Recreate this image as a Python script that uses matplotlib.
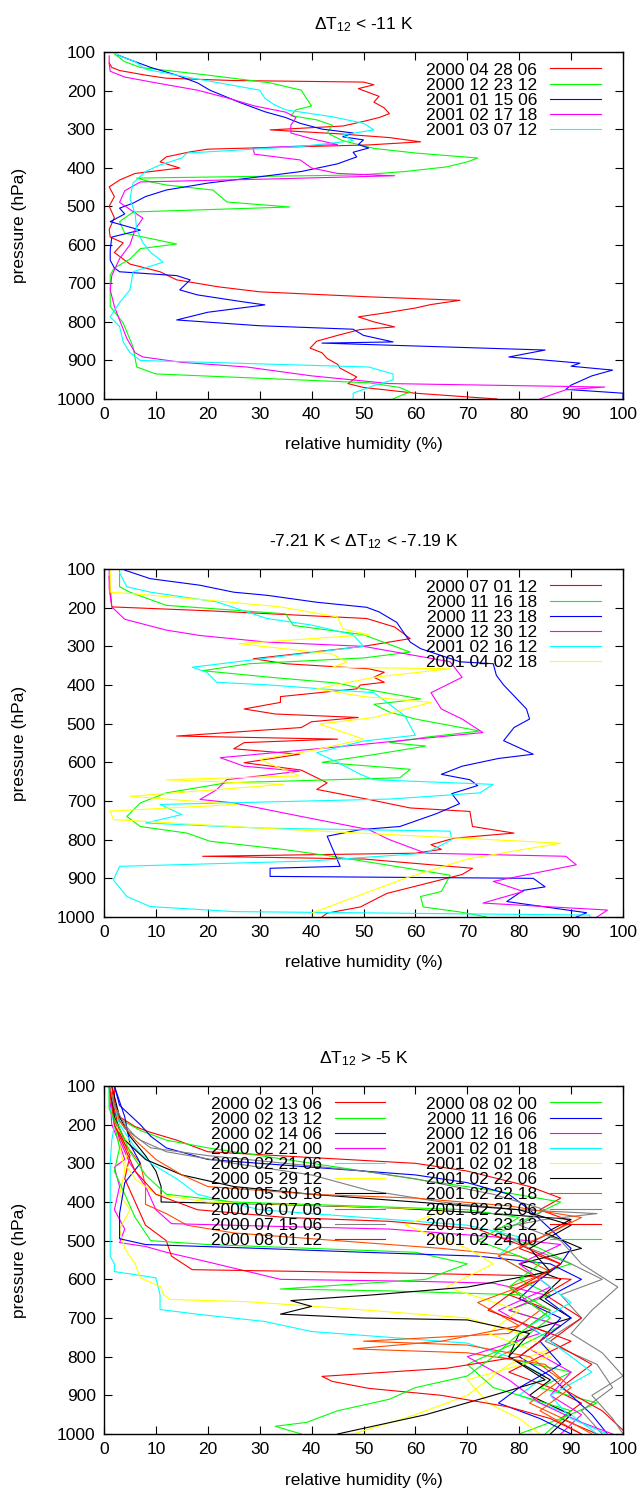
import matplotlib
matplotlib.use('Agg')
import matplotlib.pyplot as plt

plt.rcParams['font.family'] = ['Liberation Sans', 'DejaVu Sans']
plt.rcParams['mathtext.fontset'] = 'custom'
plt.rcParams['mathtext.rm'] = 'Liberation Sans'
plt.rcParams['mathtext.it'] = 'Liberation Sans:italic'

# gnuplot postscript line colours
PS_COLORS = ['#ff0000', '#00ff00', '#0000ff', '#ff00ff', '#00ffff',
             '#ffff00', '#000000', '#ff4d00', '#808080']

# ---------------- case 1: dT12 < -11 K ----------------
labels_a = ['2000 04 28 06', '2000 12 23 12', '2001 01 15 06',
            '2001 02 17 18', '2001 03 07 12']

a_red_p = [128, 140, 148, 160, 168, 174, 178, 185, 195, 205, 215, 230, 245, 260, 270, 280,
           292, 302, 312, 322, 333, 341, 352, 359, 372, 385, 401, 415, 432, 450, 475, 500,
           530, 560, 580, 595, 620, 650, 670, 691, 709, 722, 735, 744, 755, 764, 775, 787,
           800, 813, 820, 835, 850, 868, 880, 895, 910, 920, 943, 960, 970, 985, 1000]
a_red_rh = [1, 1.5, 3, 8, 12, 25, 50, 52, 49, 51, 53, 52, 54, 55, 53, 50,
            46, 32, 45, 55, 61, 51, 20, 16.6, 12, 10.8, 14.6, 6, 3, 1, 2, 1,
            2, 1, 1.2, 3.7, 2, 5, 10.8, 14, 22, 30, 51, 68.6, 63, 60, 55, 49,
            52, 56, 49.3, 45, 41, 39.7, 42, 43, 45, 45.5, 48.7, 47, 50, 60, 75.7]

a_green_p = [105, 115, 125, 140, 160, 180, 199, 220, 240, 250, 265, 276, 290, 310, 330, 350,
             362, 375, 385, 398, 410, 419, 427, 437, 445, 458, 470, 489, 502, 515, 540, 570,
             598, 610, 637, 660, 678, 720, 760, 803, 865, 917, 935, 958, 970, 982, 992, 1000]
a_green_rh = [2, 3, 4, 7, 20, 32, 38, 39, 40, 37, 36, 41, 44, 43, 46, 52,
              60, 72, 70, 66, 58, 49, 6.3, 9, 12, 21, 22, 23.7, 35.8, 5.6, 3, 4,
              14, 7, 5, 2, 1.2, 1.2, 1.2, 3.7, 5.6, 6.3, 10, 51, 57, 59, 57, 55.7]

a_blue_p = [108, 120, 140, 160, 180, 199, 230, 255, 270, 285, 300, 310, 320, 328, 340, 349,
            360, 372, 390, 410, 427, 440, 458, 475, 492, 505, 520, 540, 562, 580, 613, 640,
            660, 670, 680, 691, 717, 730, 748, 756, 775, 795, 810, 819, 835, 852, 855, 873,
            891, 907, 915, 925, 940, 964, 975, 985, 1000]
a_blue_rh = [2.7, 5, 9, 14, 18, 20.4, 26, 31, 35, 37.8, 42, 48, 46, 50, 49, 51,
             48, 48.7, 45, 38, 28, 20, 12, 8, 5.6, 3, 4, 1.2, 7, 1.5, 1.2, 1.2,
             2, 3, 14, 16.6, 14.6, 18, 26.8, 31, 20, 14, 30, 48, 50, 55.7, 42, 85,
             78, 91.7, 90, 98, 94, 90, 89, 100, 100]

a_mag_p = [110, 130, 150, 165, 180, 199, 220, 240, 256, 270, 290, 310, 325, 340, 349, 365,
           380, 401, 415, 421, 430, 437, 460, 490, 531, 560, 600, 636, 680, 717, 760, 795,
           843, 880, 891, 905, 917, 940, 960, 969, 976, 990, 1000]
a_mag_rh = [1, 1, 1.2, 4, 10, 18, 24, 29, 35, 37, 36, 36, 40, 45, 28.7, 29,
            37.8, 40, 45, 56, 30, 7, 4, 3, 7.5, 6, 5, 3, 1.5, 1.2, 2, 3,
            4.4, 6, 7.5, 15, 27.5, 40, 55, 96.5, 89, 86, 84]

a_cyan_p = [100, 110, 125, 145, 170, 199, 220, 235, 250, 268, 285, 302, 315, 330, 345, 362,
            375, 393, 410, 440, 480, 520, 560, 595, 620, 645, 670, 717, 750, 787, 812, 852,
            880, 900, 917, 935, 950, 965, 985, 1000]
a_cyan_rh = [2, 3, 6, 8, 18, 30, 31, 32.6, 35, 44, 50, 52, 46, 48, 38, 16,
             15, 10.8, 8, 5.6, 5, 6, 6.3, 7.5, 9, 11.4, 5.6, 5, 3, 1.2, 3, 3.7,
             5, 7, 51, 55.7, 55.7, 52, 48, 48]

# ---------------- case 2: -7.21 K < dT12 < -7.19 K ----------------
labels_b = ['2000 07 01 12', '2000 11 16 18', '2000 11 23 18',
            '2000 12 30 12', '2001 02 16 12', '2001 04 02 18']

b_red_p = [120, 150, 198, 208, 228, 250, 280, 300, 332, 345, 358, 367, 380, 393, 400, 410,
           430, 445, 462, 475, 484, 495, 510, 532, 540, 549, 565, 579, 601, 620, 653, 670,
           696, 718, 727, 766, 783, 796, 813, 825, 835, 843, 850, 874, 890, 939, 974, 990, 1000]
b_red_rh = [1, 1.2, 1.5, 20, 50.6, 56, 59, 50, 28.8, 35, 51, 54, 52, 54, 49.4, 48.7,
            34, 34, 27, 33, 49, 40, 38, 14, 45, 27, 25, 37.7, 27, 38, 43, 41,
            51, 59, 70.5, 71, 79, 67.5, 63, 65, 60, 19, 50, 71, 69, 54.5, 49.4, 43, 42]

b_green_p = [100, 146, 160, 194, 216, 246, 270, 300, 315, 330, 345, 363, 380, 395, 410, 436,
             450, 470, 488, 519, 535, 549, 558, 580, 600, 618, 640, 653, 679, 705, 740, 766,
             783, 804, 826, 843, 860, 892, 934, 947, 974, 987, 1000]
b_green_rh = [3, 3, 5, 12, 35, 36.5, 50, 56, 59, 50, 28, 19, 32, 45, 50, 61,
              52, 55, 60, 72.4, 62, 55, 62, 52, 42, 59, 57, 23.6, 12, 7, 4.4, 7,
              16, 20.4, 35, 44, 52, 66.7, 65, 61, 61.5, 68.6, 73.7]

b_blue_p = [103, 125, 142, 160, 168, 186, 199, 211, 238, 289, 306, 340, 345, 375, 400, 428,
            462, 488, 510, 544, 579, 590, 610, 631, 645, 660, 681, 707, 733, 766, 774, 791,
            869, 874, 895, 900, 922, 931, 960, 989, 1000]
b_blue_rh = [4, 8.9, 18.5, 25, 31.4, 41, 50.6, 53, 56.4, 59, 61, 68.6, 75, 75.6, 77, 79,
             81.4, 82, 79, 77, 82.7, 76, 69, 65, 70.5, 72, 67, 68.5, 64, 57, 49.4, 43,
             45.5, 32, 32, 82.7, 85, 80.8, 77.6, 93, 91]

b_mag_p = [100, 150, 198, 230, 258, 272, 289, 300, 340, 380, 420, 462, 488, 523, 540, 560,
           588, 610, 623, 645, 671, 696, 705, 740, 774, 800, 835, 843, 865, 908, 934, 964,
           982, 1000]
b_mag_rh = [1, 1, 1.5, 4, 12, 18.5, 31.4, 50, 66.7, 69, 63, 65, 69, 73, 60, 45,
            22.4, 27, 37.7, 23.6, 21.7, 18.5, 25, 38, 51, 55, 62, 89, 91, 75, 80.8, 73,
            97, 95]

b_cyan_p = [110, 146, 160, 185, 228, 245, 270, 300, 354, 367, 393, 400, 420, 450, 480, 506,
            530, 545, 575, 600, 631, 645, 657, 679, 695, 709, 735, 757, 770, 778, 800, 835,
            855, 869, 904, 947, 973, 986, 995, 1000]
b_cyan_rh = [3, 4.4, 9, 21.7, 31.4, 40, 48, 50, 17, 19.8, 21.7, 32, 52, 55, 58, 59,
             60, 50, 41, 45, 49.4, 52, 75, 72.4, 55, 10.8, 15, 8, 30, 66.7, 67, 62,
             40, 3, 1.8, 4.4, 8.9, 25, 93.6, 93.6]

b_yel_p = [100, 160, 164, 181, 198, 224, 255, 270, 293, 320, 341, 354, 358, 380, 410, 430,
           445, 484, 501, 540, 570, 592, 610, 635, 645, 657, 688, 709, 726, 748, 770, 809,
           850, 900, 950, 990, 1000]
b_yel_rh = [1.2, 1.2, 5.6, 20.4, 34, 45, 46, 51, 26, 44, 46.8, 44, 66.7, 52, 41, 50,
            63, 52, 41.6, 50, 40, 30, 33, 37.7, 12, 34.6, 5, 25.6, 1.2, 1.8, 30, 88,
            70, 58, 48, 40, 40]

# ---------------- case 3: dT12 > -5 K ----------------
labels_c = ['2000 02 13 06', '2000 02 13 12', '2000 02 14 06', '2000 02 21 00',
            '2000 02 21 06', '2000 05 29 12', '2000 05 30 18', '2000 06 07 06',
            '2000 07 15 06', '2000 08 01 12', '2000 08 02 00', '2000 11 16 06',
            '2000 12 16 06', '2001 02 01 18', '2001 02 02 18', '2001 02 22 06',
            '2001 02 22 18', '2001 02 23 06', '2001 02 23 12', '2001 02 24 00']

c01_p = [100, 140, 180, 205, 220, 240, 255, 270, 285, 300, 320, 340, 360, 390, 420, 450,
         480, 520, 560, 600, 640, 680, 720, 760, 800, 840, 880, 920, 960, 1000]
c01_rh = [2, 2, 3, 6, 9, 14, 17, 20, 40, 60, 70, 76, 82, 88, 84, 90,
          86, 80, 88, 84, 78, 86, 82, 90, 84, 78, 86, 92, 88, 95]
c02_p = [100, 150, 185, 215, 240, 260, 290, 320, 345, 370, 400, 440, 480, 520, 560, 600,
         640, 680, 720, 760, 800, 840, 880, 920, 960, 1000]
c02_rh = [1, 1.5, 3, 7, 12, 20, 35, 50, 62, 75, 88, 82, 76, 84, 90, 80,
          86, 78, 88, 82, 76, 90, 84, 95, 88, 80]
c03_p = [100, 150, 175, 200, 230, 260, 290, 310, 330, 350, 380, 420, 470, 520, 560, 600,
         650, 700, 760, 800, 850, 900, 950, 1000]
c03_rh = [2, 3, 5, 7, 9, 12, 20, 40, 60, 70, 78, 82, 86, 90, 88, 84,
          80, 88, 84, 80, 86, 90, 94, 97]
c04_p = [100, 200, 250, 290, 310, 360, 420, 470, 505, 515, 530, 555, 600, 605, 610, 640,
         680, 720, 780, 840, 900, 950, 1000]
c04_rh = [1, 1.5, 3, 4, 2, 3, 2, 4, 3, 8, 12, 20, 34, 60, 75, 85,
          78, 88, 82, 90, 86, 92, 88]
c05_p = [100, 150, 200, 240, 300, 400, 540, 560, 580, 596, 640, 678, 691, 709, 735, 750,
         765, 800, 850, 900, 950, 1000]
c05_rh = [1, 1, 2, 1.5, 1.2, 1.2, 1.2, 2, 2, 10, 10.8, 10.8, 18.5, 31, 40, 55,
          70, 78, 85, 80, 90, 95]
c06_p = [100, 180, 250, 320, 380, 420, 470, 520, 560, 596, 620, 640, 652, 658, 680, 700,
         740, 780, 820, 860, 900, 950, 1000]
c06_rh = [1, 2, 3, 4, 3, 5, 3, 4, 6, 7, 11, 11.5, 12.7, 28, 51, 70,
          80, 86, 78, 74, 70, 60, 48]
c07_p = [100, 180, 230, 280, 320, 360, 400, 405, 415, 430, 445, 480, 520, 560, 600, 650,
         700, 740, 800, 860, 900, 950, 1000]
c07_rh = [1.5, 3, 5, 8, 10, 11, 11, 30, 55, 75, 90, 85, 92, 80, 88, 84,
          90, 80, 78, 86, 82, 90, 86]
c08_p = [100, 200, 250, 300, 360, 406, 430, 460, 480, 500, 520, 540, 580, 620, 680, 740,
         760, 770, 800, 860, 920, 970, 1000]
c08_rh = [1, 2, 4, 7, 8, 8, 12, 16, 25, 45, 65, 80, 86, 78, 84, 78,
          50, 70, 82, 88, 82, 90, 94]
c09_p = [100, 170, 210, 240, 270, 300, 330, 370, 400, 420, 430, 445, 470, 520, 560, 600,
         640, 700, 760, 820, 880, 940, 1000]
c09_rh = [1, 2, 4, 7, 12, 25, 40, 51, 65, 80, 95, 85, 75, 82, 90, 96,
          88, 92, 85, 95, 98, 92, 96]
c10_p = [100, 160, 220, 280, 340, 400, 460, 500, 540, 575, 580, 585, 590, 600, 640, 700,
         760, 820, 880, 940, 990]
c10_rh = [1.5, 2, 3, 5, 4, 6, 8, 12, 13, 17, 40, 62, 80, 90, 85, 92,
          86, 94, 88, 96, 100]
c11_p = [100, 200, 260, 320, 380, 440, 500, 510, 520, 530, 560, 600, 625, 630, 640, 700,
         760, 820, 880, 940, 1000]
c11_rh = [1, 2, 3, 2, 4, 6, 9, 20, 40, 60, 70, 62, 34, 55, 80, 86,
          80, 70, 75, 90, 85]
c12_p = [100, 180, 250, 300, 350, 430, 495, 510, 520, 530, 540, 560, 600, 650, 700, 760,
         820, 880, 920, 960, 1000]
c12_rh = [2, 4, 5, 7, 4, 3, 3, 8, 30, 50, 72, 86, 92, 85, 90, 84,
          88, 80, 76, 84, 90]
c13_p = [100, 180, 240, 300, 360, 420, 456, 462, 470, 490, 510, 560, 620, 680, 740, 800,
         860, 920, 970, 1000]
c13_rh = [1, 2, 3, 5, 8, 10, 13, 30, 55, 75, 88, 80, 86, 76, 84, 70,
          78, 84, 92, 98]
c14_p = [100, 200, 260, 300, 340, 380, 420, 440, 460, 490, 540, 600, 660, 720, 780, 840,
         900, 960, 1000]
c14_rh = [1, 3, 6, 9, 14, 18, 30, 50, 70, 80, 76, 84, 90, 82, 88, 94,
          86, 90, 97]
c15_p = [100, 200, 250, 300, 340, 380, 400, 410, 420, 460, 520, 560, 620, 680, 740, 800,
         860, 920, 960, 1000]
c15_rh = [1, 2, 5, 4, 6, 10, 20, 45, 66, 58, 70, 75, 66, 80, 74, 86,
          70, 74, 80, 84]
c16_p = [100, 180, 240, 290, 330, 360, 380, 400, 420, 460, 520, 580, 620, 640, 655, 670,
         690, 700, 705, 740, 800, 860, 900, 950, 1000]
c16_rh = [1, 2, 4, 8, 15, 25, 40, 60, 80, 90, 82, 86, 70, 52, 36, 40,
          34, 50, 70, 82, 78, 85, 75, 62, 45]
c17_p = [100, 190, 240, 290, 330, 360, 380, 390, 410, 440, 480, 540, 600, 660, 720, 760,
         780, 790, 820, 880, 940, 1000]
c17_rh = [1, 3, 6, 10, 15, 20, 40, 60, 78, 92, 86, 76, 84, 72, 80, 65,
          48, 70, 85, 90, 84, 92]
c18_p = [100, 150, 200, 230, 260, 280, 300, 320, 340, 380, 420, 460, 500, 560, 620, 680,
         740, 790, 850, 900, 960, 1000]
c18_rh = [1, 2, 4, 6, 9, 20, 35, 50, 60, 75, 85, 80, 88, 92, 99, 94,
          90, 96, 100, 94, 98, 100]
c19_p = [100, 200, 260, 320, 380, 420, 440, 450, 470, 510, 560, 620, 680, 740, 800, 830,
         851, 864, 882, 900, 930, 960, 1000]
c19_rh = [1, 2, 4, 6, 10, 18, 35, 55, 72, 80, 88, 80, 74, 86, 80, 66,
          42, 44, 51, 65, 78, 86, 92]
c20_p = [100, 160, 210, 270, 330, 380, 400, 410, 420, 440, 500, 560, 620, 680, 740, 800,
         850, 880, 910, 940, 970, 980, 1000]
c20_rh = [1, 1, 3, 5, 8, 12, 25, 48, 70, 80, 72, 84, 78, 86, 80, 75,
          70, 60, 55, 45, 39, 33, 38]

profiles_a = [(a_red_p, a_red_rh), (a_green_p, a_green_rh), (a_blue_p, a_blue_rh),
              (a_mag_p, a_mag_rh), (a_cyan_p, a_cyan_rh)]
profiles_b = [(b_red_p, b_red_rh), (b_green_p, b_green_rh), (b_blue_p, b_blue_rh),
              (b_mag_p, b_mag_rh), (b_cyan_p, b_cyan_rh), (b_yel_p, b_yel_rh)]
profiles_c = [(c01_p, c01_rh), (c02_p, c02_rh), (c03_p, c03_rh), (c04_p, c04_rh),
              (c05_p, c05_rh), (c06_p, c06_rh), (c07_p, c07_rh), (c08_p, c08_rh),
              (c09_p, c09_rh), (c10_p, c10_rh), (c11_p, c11_rh), (c12_p, c12_rh),
              (c13_p, c13_rh), (c14_p, c14_rh), (c15_p, c15_rh), (c16_p, c16_rh),
              (c17_p, c17_rh), (c18_p, c18_rh), (c19_p, c19_rh), (c20_p, c20_rh)]

W, H = 643, 1490
FS = 12.5


def draw_panel(top, bottom, title, profiles, labels, ncol):
    ax = fig.add_axes([104 / W, 1 - bottom / H, 519 / W, (bottom - top) / H])
    for i, (p, rh) in enumerate(profiles):
        ax.plot(rh, p, color=PS_COLORS[i % len(PS_COLORS)], lw=0.8,
                label=labels[i])
    ax.set_xlim(0, 100)
    ax.set_ylim(1000, 100)
    ax.set_xticks(range(0, 101, 10))
    ax.set_yticks(range(100, 1001, 100))
    ax.tick_params(direction='in', length=6, width=0.8, top=True, right=True,
                   labelsize=FS, pad=6)
    for s in ax.spines.values():
        s.set_linewidth(1.0)
    # key sits a little in from the right frame, text before sample
    ax.legend(loc='upper right', bbox_to_anchor=(1 - 12 / 519, 1), ncol=ncol,
              frameon=False, markerfirst=False, fontsize=FS, handlelength=2.9,
              handletextpad=0.75, labelspacing=0.0, columnspacing=2.35,
              borderaxespad=0.3, borderpad=0.3)
    fig.text(363.5 / W, 1 - (top - 27) / H, title, ha='center', va='center',
             fontsize=FS)
    fig.text(363.5 / W, 1 - (bottom + 46) / H, 'relative humidity (%)',
             ha='center', va='center', fontsize=FS)
    fig.text(20 / W, 1 - (top + bottom) / 2 / H, 'pressure (hPa)',
             ha='center', va='center', rotation=90, fontsize=FS)
    return ax


fig = plt.figure(figsize=(W / 100, H / 100), dpi=100)
draw_panel(52, 399, r'$\Delta$T$_{\mathrm{12}}$ < -11 K', profiles_a, labels_a, 1)
draw_panel(569, 917, r'-7.21 K < $\Delta$T$_{\mathrm{12}}$ < -7.19 K', profiles_b, labels_b, 1)
draw_panel(1086, 1434, r'$\Delta$T$_{\mathrm{12}}$ > -5 K', profiles_c, labels_c, 2)
fig.savefig('out.png', dpi=100)
